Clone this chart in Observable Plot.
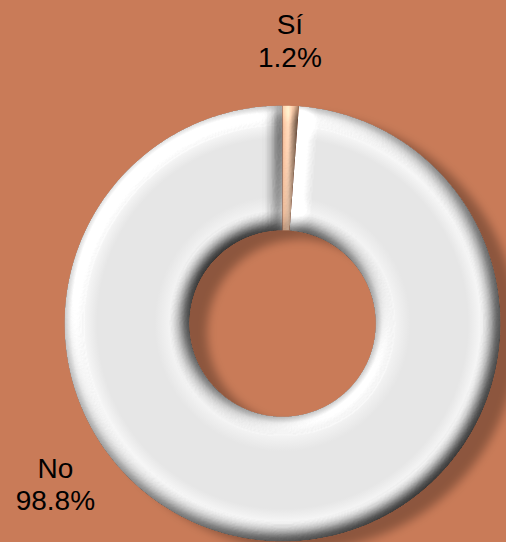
<!DOCTYPE html>
<html>
<head>
<meta charset="utf-8">
<script src="https://cdn.jsdelivr.net/npm/d3@7"></script>
<script src="https://cdn.jsdelivr.net/npm/@observablehq/plot@0.6"></script>
<style>
  html, body { margin: 0; padding: 0; background: #C97B58; }
  #chart { width: 506px; height: 542px; }
</style>
</head>
<body>
<svg width="0" height="0" style="position:absolute;left:0;top:0"><defs id="defs"></defs></svg>
<div id="chart"></div>
<script>
// ---- data ----
const categories = ["Sí", "No"];
const values = [1.2, 98.8];
const valueLabels = ["1.2%", "98.8%"];

// ---- layout / style constants ----
const W = 506, H = 542;
const CX = 282, CY = 323, R = 218;      // donut centre and outer radius (px)
const INNER = 0.427;                    // inner radius as fraction of outer
const BG = "#C97B58";
const sliceFill = {"Sí": "url(#gSi)", "No": "url(#gNo)"};
// label anchors (angle clockwise from 12 o'clock in degrees, radius in outer-radius units)
const labelAnchor = {"Sí": {angle: 1.5, radius: 1.30}, "No": {angle: 234.8, radius: 1.275}};

const data = categories.map((c, i) => ({cat: c, value: values[i], label: valueLabels[i]}));
const arcs = d3.pie().sort(null).value(d => d.value).startAngle(0).endAngle(2 * Math.PI)(data);

// ring outlines in unit coordinates (x right, y up)
const ringPts = [];
for (const a of arcs) {
  const n = Math.max(6, Math.ceil((a.endAngle - a.startAngle) / (Math.PI / 360)));
  for (let k = 0; k <= n; k++) {
    const t = a.startAngle + (a.endAngle - a.startAngle) * k / n;
    ringPts.push({cat: a.data.cat, x: Math.sin(t), y: Math.cos(t)});
  }
  for (let k = n; k >= 0; k--) {
    const t = a.startAngle + (a.endAngle - a.startAngle) * k / n;
    ringPts.push({cat: a.data.cat, x: INNER * Math.sin(t), y: INNER * Math.cos(t)});
  }
}

const labels = arcs.map(a => {
  const spec = labelAnchor[a.data.cat];
  const ang = spec.angle * Math.PI / 180;
  return {text: `${a.data.cat}\n${a.data.label}`, x: spec.radius * Math.sin(ang), y: spec.radius * Math.cos(ang)};
});

const chart = Plot.plot({
  width: W, height: H,
  margin: 0,
  style: {background: BG, fontFamily: "'Liberation Sans', Arial, sans-serif", overflow: "visible"},
  x: {domain: [-1, 1], range: [CX - R, CX + R], axis: null},
  y: {domain: [-1, 1], range: [CY + R, CY - R], axis: null},
  color: {domain: categories, range: categories.map(c => sliceFill[c])},
  marks: [
    Plot.line(ringPts, {x: "x", y: "y", z: "cat", fill: "cat", stroke: "none", curve: "linear"}),
    Plot.text(labels, {x: "x", y: "y", text: "text", fontSize: 28, lineHeight: 1.15, fill: "black", textAnchor: "middle"})
  ]
});

// ---- gradients & 3D bevel filters ----
const defs = d3.select("#defs");
const gNo = defs.append("radialGradient").attr("id", "gNo").attr("gradientUnits", "userSpaceOnUse")
  .attr("cx", chart.scale("x").apply(0)).attr("cy", chart.scale("y").apply(0)).attr("r", R);
[[INNER, "#a8a8a8"], [INNER + 0.03, "#d4d4d4"], [INNER + 0.09, "#f3f3f3"], [INNER + 0.16, "#e6e6e6"],
 [0.85, "#e6e6e6"], [0.91, "#f6f6f6"], [0.97, "#dedede"], [1.0, "#b8b8b8"]]
  .forEach(([o, c]) => gNo.append("stop").attr("offset", o).attr("stop-color", c));
const gSi = defs.append("linearGradient").attr("id", "gSi").attr("x1", 0).attr("x2", 1).attr("y1", 0).attr("y2", 0);
[[0, "#d8a888"], [0.35, "#f4cdb0"], [0.7, "#edbf9e"], [1, "#c09070"]]
  .forEach(([o, c]) => gSi.append("stop").attr("offset", o).attr("stop-color", c));

defs.append("filter").attr("id", "bevel").attr("x", "-5%").attr("y", "-5%").attr("width", "110%").attr("height", "110%")
  .attr("color-interpolation-filters", "sRGB")
  .html(`<feGaussianBlur in="SourceAlpha" stdDeviation="8" result="b"/>
    <feDiffuseLighting in="b" surfaceScale="8" diffuseConstant="1" lighting-color="#ffffff" result="d">
      <feDistantLight azimuth="225" elevation="55"/>
    </feDiffuseLighting>
    <feComposite in="SourceGraphic" in2="d" operator="arithmetic" k1="1.22" k2="0" k3="0" k4="0" result="lit"/>
    <feComposite in="lit" in2="SourceAlpha" operator="in"/>`);
defs.append("filter").attr("id", "shadow").attr("x", "-10%").attr("y", "-10%").attr("width", "130%").attr("height", "130%")
  .html(`<feGaussianBlur in="SourceAlpha" stdDeviation="5"/>
    <feOffset dx="18" dy="9" result="o"/>
    <feFlood flood-color="#000" flood-opacity="0.3"/>
    <feComposite in2="o" operator="in" result="s"/>
    <feMerge><feMergeNode in="s"/><feMergeNode in="SourceGraphic"/></feMerge>`);

const svg = d3.select(chart);
const lineG = svg.select("g[aria-label='line']");
lineG.attr("filter", "url(#shadow)");
lineG.selectAll("path").attr("filter", "url(#bevel)");

document.getElementById("chart").appendChild(chart);
</script>
</body>
</html>
